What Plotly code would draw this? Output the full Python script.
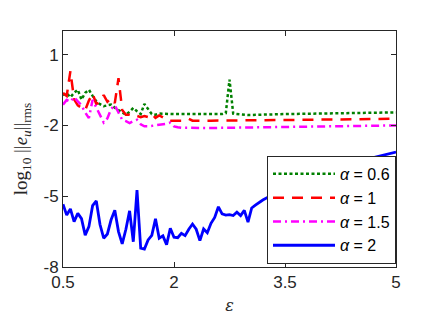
import plotly.graph_objects as go

# ---- data ----
eps_a2 = [0.50, 0.55, 0.60, 0.65, 0.70, 0.75, 0.80, 0.85, 0.90, 0.95,
          1.00, 1.05, 1.10, 1.15, 1.20, 1.25, 1.30, 1.35, 1.40, 1.45,
          1.50, 1.55, 1.60, 1.65, 1.70, 1.75, 1.80, 1.85, 1.90, 1.95,
          2.00, 2.05, 2.10, 2.15, 2.20, 2.25, 2.30, 2.35, 2.40, 2.45,
          2.50, 2.55, 2.60, 2.65, 2.70, 2.75, 2.80, 2.85, 2.90, 2.95,
          3.00, 3.05, 3.10, 3.15, 3.20, 3.25, 3.30,
          3.50, 3.75, 4.00, 4.25, 4.50, 4.75, 5.00]
err_a2 = [-5.34, -5.80, -5.54, -6.08, -5.73, -5.95, -6.65, -6.29, -5.40, -5.20,
          -6.20, -6.78, -6.60, -6.00, -5.60, -6.50, -7.02, -6.40, -5.62, -6.93,
          -4.74, -7.20, -7.24, -6.85, -6.66, -5.96, -6.78, -6.68, -7.05, -6.36,
          -6.74, -6.76, -6.57, -6.67, -6.40, -6.18, -6.40, -6.88, -6.39, -6.55,
          -6.15, -5.90, -5.45, -5.75, -5.80, -5.78, -5.82, -5.68, -5.82, -5.60,
          -6.10, -5.50, -5.38, -5.25, -5.16, -5.08, -5.00,
          -4.70, -4.35, -4.00, -3.70, -3.50, -3.31, -3.13]

eps_a06 = [0.50, 0.55, 0.60, 0.65, 0.70, 0.75, 0.80, 0.85, 0.90, 0.95,
           1.00, 1.05, 1.10, 1.15, 1.20, 1.25, 1.30, 1.35, 1.40, 1.45,
           1.50, 1.55, 1.60, 1.65, 1.70, 1.75, 1.80, 2.00, 2.30, 2.65,
           2.70, 2.75, 2.80, 3.00, 3.50, 4.00, 4.50, 5.00]
err_a06 = [-0.72, -0.63, -0.81, -0.62, -0.49, -0.91, -0.62, -0.49, -0.75, -0.98,
           -1.10, -1.19, -1.15, -1.12, -1.25, -1.35, -1.45, -1.55, -1.42, -1.26,
           -1.40, -1.52, -1.09, -1.30, -1.52, -1.55, -1.50, -1.52, -1.51, -1.52,
           -1.48, -0.06, -1.50, -1.56, -1.52, -1.50, -1.48, -1.45]

eps_a1 = [0.50, 0.55, 0.60, 0.65, 0.70, 0.75, 0.80, 0.85, 0.90, 0.95,
          1.00, 1.05, 1.10, 1.15, 1.20, 1.25, 1.30, 1.35, 1.40, 1.45,
          1.50, 1.55, 1.60, 1.65, 1.70, 1.75, 1.80, 1.85, 1.90, 1.95,
          2.00, 2.10, 2.20, 2.25, 2.50, 3.00, 3.50, 4.00, 4.50, 5.00]
err_a1 = [-0.63, -0.75, 0.30, -0.90, -1.15, -1.26, -1.35, -0.95, -0.65, -1.10,
          -1.00, -0.72, -1.00, -0.85, -1.05, 0.00, -1.35, -1.55, -1.55, -1.62,
          -1.60, -1.65, -1.60, -1.65, -1.52, -1.68, -1.58, -1.66, -1.76, -1.80,
          -1.80, -1.80, -1.72, -1.80, -1.80, -1.79, -1.77, -1.76, -1.74, -1.71]

eps_a15 = [0.50, 0.55, 0.60, 0.65, 0.70, 0.75, 0.80, 0.85, 0.90, 0.95,
           1.00, 1.05, 1.10, 1.15, 1.20, 1.25, 1.30, 1.35, 1.40, 1.45,
           1.50, 1.55, 1.60, 1.65, 1.70, 1.75, 1.80, 1.85, 1.90, 1.95,
           2.00, 2.05, 2.10, 2.50, 3.00, 3.50, 4.00, 4.50, 5.00]
err_a15 = [-1.12, -0.92, -1.00, -0.80, -0.98, -1.15, -1.45, -1.69, -0.92, -1.25,
           -1.55, -1.88, -1.70, -1.30, -1.15, -1.45, -1.76, -1.82, -1.90, -1.82,
           -1.76, -1.95, -2.04, -2.04, -2.02, -2.00, -1.98, -1.97, -1.93, -1.88,
           -2.04, -2.08, -2.10, -2.11, -2.09, -2.07, -2.05, -2.02, -2.00]

x_ticks = [0.5, 2, 3.5, 5]
x_ticklabels = ["0.5", "2", "3.5", "5"]
y_ticks = [-8, -5, -2, 1]
y_ticklabels = ["-8", "-5", "-2", "1"]

AX = "#262626"
fig = go.Figure()
fig.add_trace(go.Scatter(x=eps_a06, y=err_a06, mode="lines", name="<i>α</i> = 0.6",
                         line=dict(color="#008000", width=2.5, dash="3px,2.5px")))
fig.add_trace(go.Scatter(x=eps_a1, y=err_a1, mode="lines", name="<i>α</i> = 1",
                         line=dict(color="#ff0000", width=2.5, dash="11px,8px")))
fig.add_trace(go.Scatter(x=eps_a15, y=err_a15, mode="lines", name="<i>α</i> = 1.5",
                         line=dict(color="#ff00ff", width=2.5, dash="8px,4px,2px,4px")))
fig.add_trace(go.Scatter(x=eps_a2, y=err_a2, mode="lines", name="<i>α</i> = 2",
                         line=dict(color="#0000ff", width=2.8)))

axis_common = dict(showline=True, linecolor=AX, linewidth=1, mirror="ticks",
                   ticks="inside", ticklen=5, tickcolor=AX, showgrid=False,
                   zeroline=False, automargin=False,
                   tickfont=dict(family="Liberation Sans, Arial", size=17, color=AX))
fig.update_xaxes(range=[0.5, 5], tickvals=x_ticks, ticktext=x_ticklabels,
                 title=dict(text="<i>ε</i>", font=dict(family="DejaVu Serif, serif", size=16, color=AX), standoff=8),
                 **axis_common)
fig.update_yaxes(range=[-8, 2], tickvals=y_ticks, ticktext=y_ticklabels,
                 title=dict(text="log<sub>10</sub> ||<i>e<sub>u</sub></i>||<sub>rms</sub>",
                            font=dict(family="Liberation Serif, serif", size=19, color=AX), standoff=10),
                 **axis_common)

fig.update_layout(
    width=428, height=314,
    margin=dict(l=55, r=40, t=23, b=55),
    paper_bgcolor="white", plot_bgcolor="white",
    showlegend=True,
    legend=dict(x=1, y=0.013, xanchor="right", yanchor="bottom",
                bgcolor="white", bordercolor=AX, borderwidth=1,
                font=dict(family="Liberation Sans, Arial", size=16, color="black"),
                itemwidth=62, tracegroupgap=0),
)

fig.write_html("out.html")
